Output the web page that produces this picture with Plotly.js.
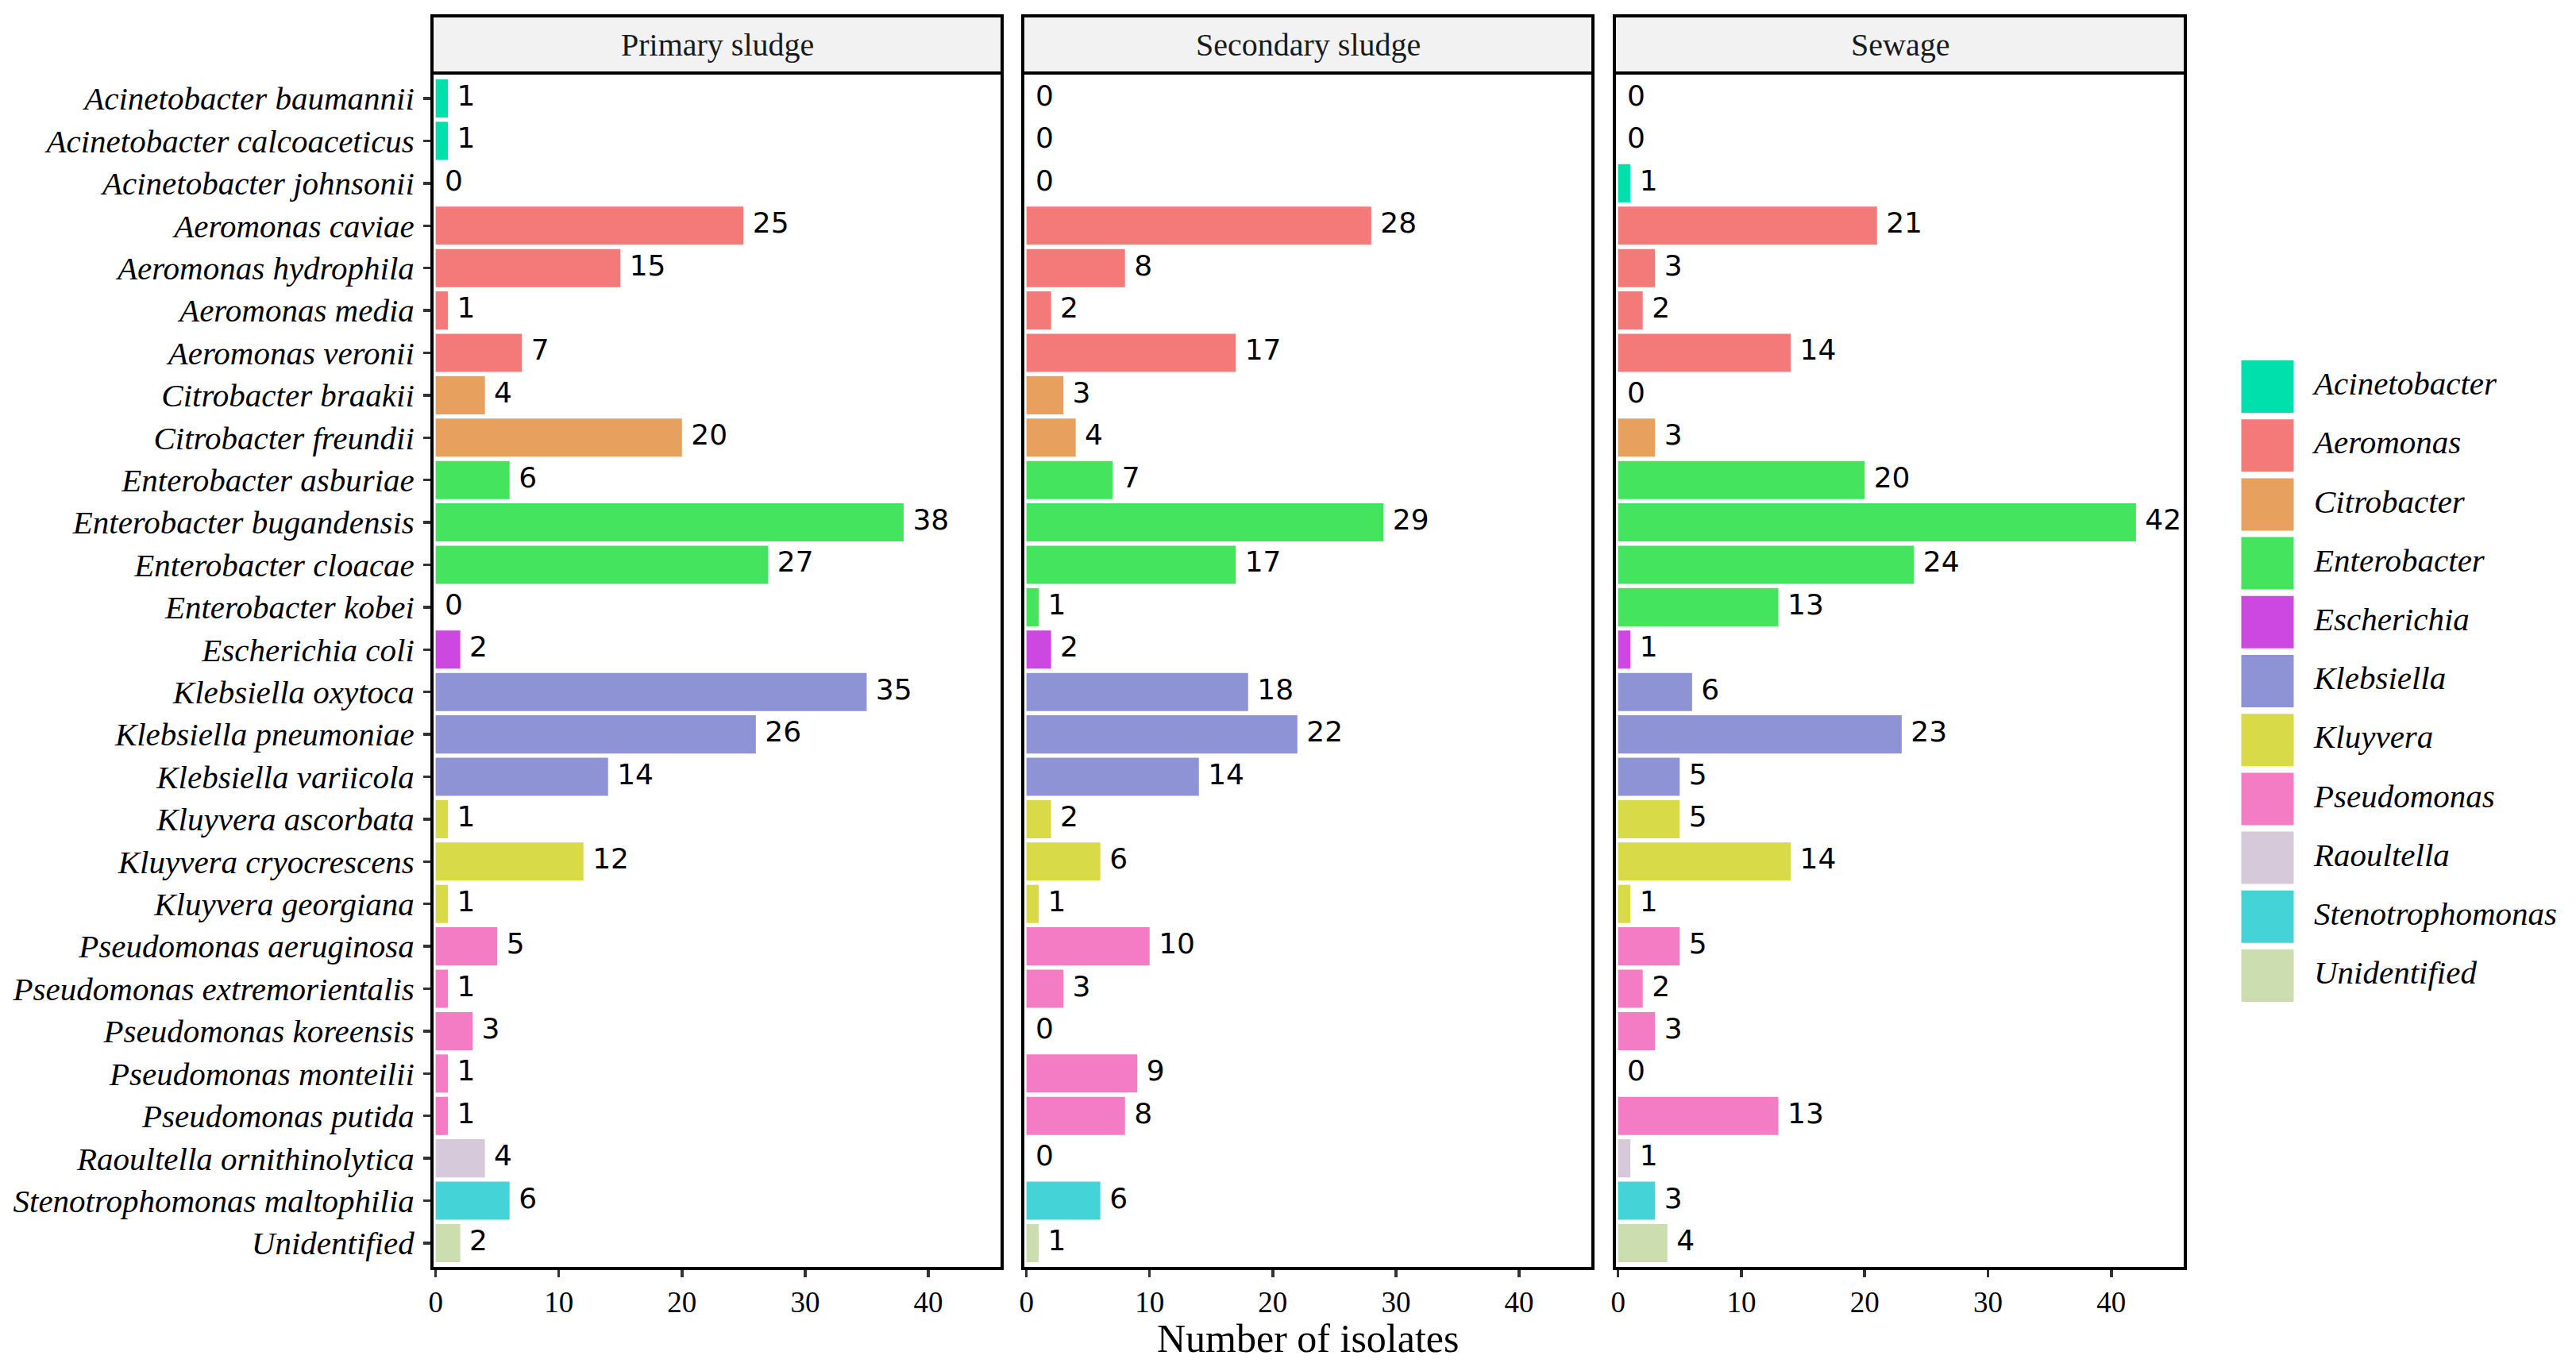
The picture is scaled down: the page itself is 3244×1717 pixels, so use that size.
<!DOCTYPE html>
<html><head><meta charset="utf-8">
<script src="https://cdn.plot.ly/plotly-3.0.1.min.js"></script>
<style>html,body{margin:0;padding:0;background:#fff}</style>
</head><body><div id="chart" style="width:3244px;height:1717px"></div>
<script>
const species = [
  "Acinetobacter baumannii","Acinetobacter calcoaceticus","Acinetobacter johnsonii",
  "Aeromonas caviae","Aeromonas hydrophila","Aeromonas media","Aeromonas veronii",
  "Citrobacter braakii","Citrobacter freundii",
  "Enterobacter asburiae","Enterobacter bugandensis","Enterobacter cloacae","Enterobacter kobei",
  "Escherichia coli",
  "Klebsiella oxytoca","Klebsiella pneumoniae","Klebsiella variicola",
  "Kluyvera ascorbata","Kluyvera cryocrescens","Kluyvera georgiana",
  "Pseudomonas aeruginosa","Pseudomonas extremorientalis","Pseudomonas koreensis","Pseudomonas monteilii","Pseudomonas putida",
  "Raoultella ornithinolytica","Stenotrophomonas maltophilia","Unidentified"
];
const primarySludge   = [1,1,0,25,15,1,7,4,20,6,38,27,0,2,35,26,14,1,12,1,5,1,3,1,1,4,6,2];
const secondarySludge = [0,0,0,28,8,2,17,3,4,7,29,17,1,2,18,22,14,2,6,1,10,3,0,9,8,0,6,1];
const sewage          = [0,0,1,21,3,2,14,0,3,20,42,24,13,1,6,23,5,5,14,1,5,2,3,0,13,1,3,4];
const panelTitles = ["Primary sludge","Secondary sludge","Sewage"];
const genera = ["Acinetobacter","Aeromonas","Citrobacter","Enterobacter","Escherichia","Klebsiella",
  "Kluyvera","Pseudomonas","Raoultella","Stenotrophomonas","Unidentified"];
const genusColors = ["#00E0AC","#F47A7A","#E8A05E","#44E45E","#CC48E0","#8E93D6",
  "#D8DA48","#F47CC4","#D6CADA","#44D4D8","#CCDDB0"];
const xTickVals = [0,10,20,30,40];

const W = 3244, H = 1717;
const colorOf = g => genusColors[genera.indexOf(g)];
const genusOf = s => s.split(" ")[0];
const panelData = [primarySludge, secondarySludge, sewage];
const suffix = ["", "2", "3"];
const xDomains = [[544/W, 1262/W], [1288/W, 2006/W], [2033/W, 2752/W]];
const yDom = [1 - 1598/H, 1 - 92/H];
const stripTop = 1 - 20/H;

const serif = "Liberation Serif, Times New Roman, serif";
const sans = "DejaVu Sans, sans-serif";

const traces = [];
panelData.forEach((vals, i) => {
  const s = suffix[i];
  traces.push({
    type: "bar", orientation: "h", x: vals, y: species,
    marker: {color: species.map(sp => colorOf(genusOf(sp))), line: {width: 0}},
    width: 0.9, xaxis: "x" + s, yaxis: "y" + s, hoverinfo: "x+y", showlegend: false
  });
  traces.push({
    type: "scatter", mode: "text", x: vals, y: species,
    text: vals.map(v => "\u00A0" + v), textposition: "middle right",
    textfont: {family: sans, size: 36, color: "#000"},
    cliponaxis: false, xaxis: "x" + s, yaxis: "y" + s, hoverinfo: "skip", showlegend: false
  });
});
// legend keys
traces.push({
  type: "scatter", mode: "markers", x: genera.map(() => 27.5), y: genera,
  marker: {symbol: "square", size: 66, color: genusColors, line: {width: 0}},
  xaxis: "x4", yaxis: "y4", hoverinfo: "skip", showlegend: false, cliponaxis: false
});
traces.push({
  type: "scatter", mode: "text", x: genera.map(() => 86), y: genera, text: genera,
  textposition: "middle right",
  textfont: {family: serif, size: 41, color: "#000", style: "italic"},
  xaxis: "x4", yaxis: "y4", hoverinfo: "skip", showlegend: false, cliponaxis: false
});

const layout = {
  width: W, height: H, margin: {l: 0, r: 0, t: 0, b: 0},
  paper_bgcolor: "#fff", plot_bgcolor: "#fff", showlegend: false,
  barmode: "overlay",
  shapes: [], annotations: []
};
const pitch = 74.2, firstCenter = 487;
layout.xaxis4 = {domain: [2828/W, 1], range: [0, 416], visible: false, anchor: "y4", fixedrange: true};
layout.yaxis4 = {domain: [0, 1], type: "category", categoryarray: genera, categoryorder: "array",
  range: [(H - firstCenter)/pitch, -firstCenter/pitch], visible: false, anchor: "x4", fixedrange: true};

suffix.forEach((s, i) => {
  layout["xaxis" + s] = {
    domain: xDomains[i], range: [-0.3, 46], anchor: "y" + s,
    tickmode: "array", tickvals: xTickVals, ticktext: xTickVals.map(String),
    ticks: "outside", ticklen: 10, tickwidth: 3.5, tickcolor: "#333",
    tickfont: {family: serif, size: 37, color: "#000"},
    showgrid: false, zeroline: false, showline: false
  };
  const ya = {
    domain: yDom, type: "category", categoryarray: species, categoryorder: "array",
    range: [species.length - 0.4, -0.6], anchor: "x" + s,
    showgrid: false, zeroline: false, showline: false
  };
  if (i === 0) {
    Object.assign(ya, {ticks: "outside", ticklen: 10, tickwidth: 3.5, tickcolor: "#333",
      tickfont: {family: serif, size: 41, color: "#000", style: "italic"}, ticklabelstandoff: 3});
  } else {
    Object.assign(ya, {matches: "y", showticklabels: false, ticks: ""});
  }
  layout["yaxis" + s] = ya;
  layout.shapes.push({type: "rect", xref: "x" + s + " domain", yref: "y" + s + " domain",
    x0: 0, x1: 1, y0: 0, y1: 1, line: {color: "#000", width: 4}, fillcolor: "rgba(0,0,0,0)", layer: "above"});
  layout.shapes.push({type: "rect", xref: "x" + s + " domain", yref: "paper",
    x0: 0, x1: 1, y0: yDom[1], y1: stripTop, line: {color: "#000", width: 4}, fillcolor: "#F2F2F2", layer: "above"});
  layout.annotations.push({text: panelTitles[i], xref: "x" + s + " domain", yref: "paper",
    x: 0.5, y: (yDom[1] + stripTop)/2, xanchor: "center", yanchor: "middle", showarrow: false,
    font: {family: serif, size: 40, color: "#1a1a1a"}});
});
layout.annotations.push({text: "Number of isolates", xref: "x2 domain", yref: "paper",
  x: 0.5, y: 1 - 1686/H, xanchor: "center", yanchor: "middle", showarrow: false,
  font: {family: serif, size: 50, color: "#000"}});

Plotly.newPlot("chart", traces, layout, {displayModeBar: false, staticPlot: true});
</script></body></html>
